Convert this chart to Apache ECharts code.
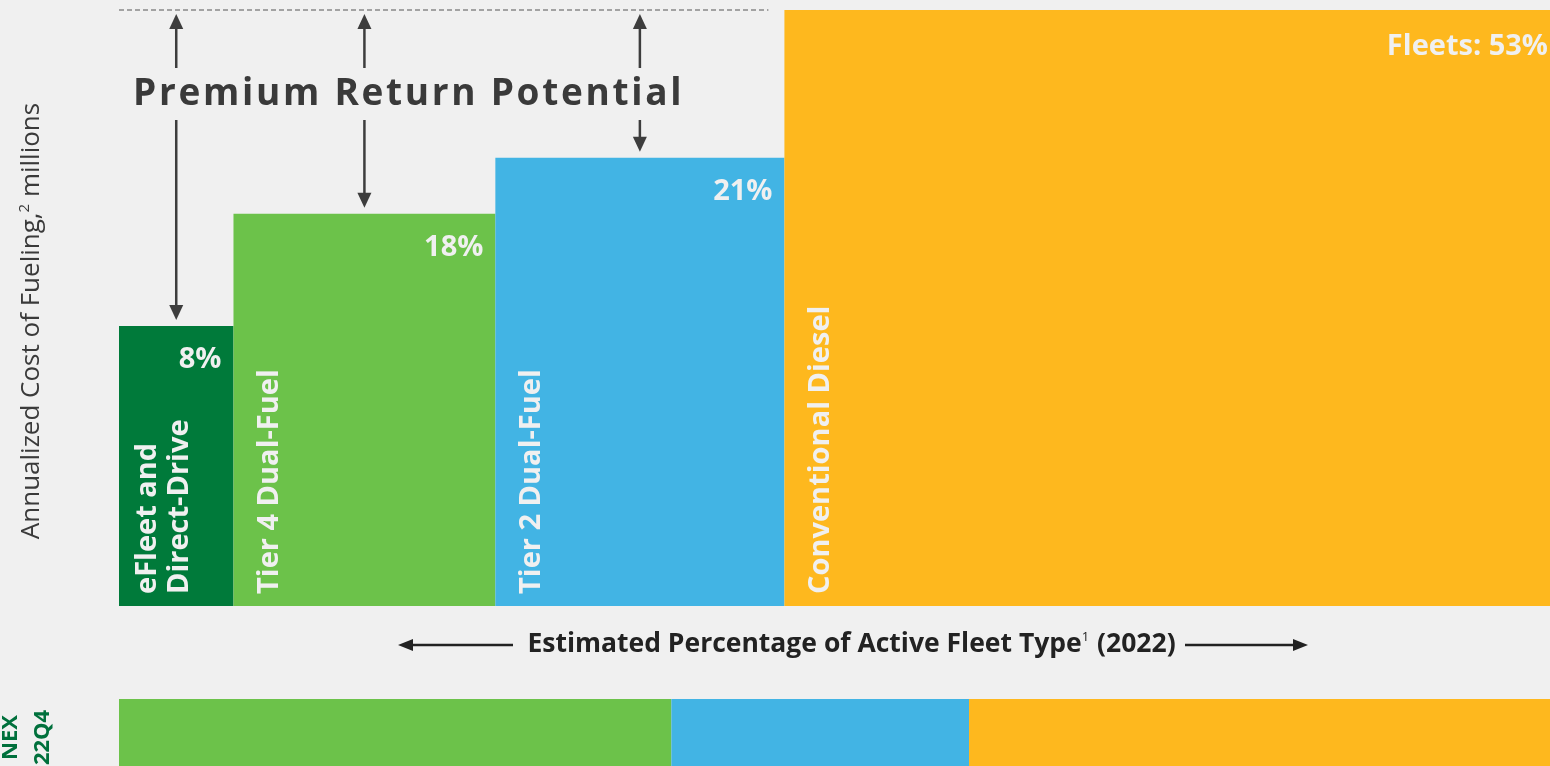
<!DOCTYPE html>
<html>
<head>
<meta charset="utf-8">
<style>
  html, body { margin: 0; padding: 0; background: #f0f0f0; }
  #chart { width: 1550px; height: 766px; }
</style>
<script src="https://cdn.jsdelivr.net/npm/echarts@6/dist/echarts.min.js"></script>
</head>
<body>
<div id="chart"></div>
<script>
// fleet types, share of active fleet (bar width) and relative fueling cost (bar height)
const fleetTypes = ['eFleet and\nDirect-Drive', 'Tier 4 Dual-Fuel', 'Tier 2 Dual-Fuel', 'Conventional Diesel'];
const shareLabels = ['8%', '18%', '21%', 'Fleets: 53%'];
const fleetShare = [8.0, 18.3, 20.2, 53.5];
const fuelCost = [47, 65.8, 75.2, 100];
// NEX 22Q4 mix (Tier 4 / Tier 2 / conventional)
const nexCategory = ['NEX\n22Q4'];
const nexTier4 = [38.6];
const nexTier2 = [20.8];
const nexDiesel = [40.6];

const colors = ['#007a3a', '#6cc24a', '#42b4e4', '#feb81e'];
const yMax = 100;

// spaced-out title, one text per letter (no letterSpacing in zrender)
function spacedTitle(str, font, spacing, x0, yc) {
  const ctx = document.createElement('canvas').getContext('2d');
  ctx.font = font;
  const els = [];
  let x = x0;
  for (const ch of str) {
    els.push({ type: 'text', x: x, y: yc, z: 11,
      style: { text: ch, font: font, fill: '#3a3a3a', verticalAlign: 'middle' } });
    x += ctx.measureText(ch).width + spacing;
  }
  return { width: x - spacing - x0, els: els };
}

function renderChart() {
  const dom = document.getElementById('chart');
  const chart = echarts.init(dom);

  // build [start, end, value] for the variable-width bars
  let acc = 0;
  const barData = fleetShare.map(function (w, i) {
    const item = [acc, acc + w, fuelCost[i]];
    acc += w;
    return item;
  });

  function renderItem(params, api) {
    const i = params.dataIndex;
    const p0 = api.coord([api.value(0), api.value(2)]);
    const p1 = api.coord([api.value(1), 0]);
    const last = i === fleetTypes.length - 1;
    const lines = fleetTypes[i].split('\n').length;
    const children = [
      {
        type: 'rect',
        shape: { x: p0[0], y: p0[1], width: p1[0] - p0[0], height: p1[1] - p0[1] },
        style: { fill: colors[i] }
      },
      {
        type: 'text',
        x: p1[0] - (last ? 2 : 12),
        y: p0[1] + (last ? 37 : 34),
        style: {
          text: shareLabels[i], align: 'right', verticalAlign: 'middle',
          font: 'bold 29px "Open Sans"', fill: '#f0f0f0'
        }
      },
      {
        type: 'text',
        x: p0[0] + 36 + (lines - 1) * 9,
        y: p1[1] - 12,
        rotation: Math.PI / 2,
        style: {
          text: fleetTypes[i], align: 'left', verticalAlign: 'middle',
          font: 'bold 29px "Open Sans"', lineHeight: 32, fill: '#f0f0f0'
        }
      }
    ];
    // arrows from the conventional level down to each cheaper fleet type
    if (!last) {
      const cx = (p0[0] + p1[0]) / 2;
      const top = api.coord([0, yMax])[1] + 4;
      const bot = p0[1] - 6;
      children.push(
        { type: 'line', shape: { x1: cx, y1: top + 12, x2: cx, y2: bot - 12 },
          style: { stroke: '#3d3d3d', lineWidth: 2.5 } },
        { type: 'polygon', shape: { points: [[cx, top], [cx - 7, top + 15], [cx + 7, top + 15]] },
          style: { fill: '#3d3d3d' } },
        { type: 'polygon', shape: { points: [[cx, bot], [cx - 7, bot - 15], [cx + 7, bot - 15]] },
          style: { fill: '#3d3d3d' } }
      );
    }
    if (i === 0) {
      const a = api.coord([0, yMax]);
      const b = api.coord([barData[fleetTypes.length - 1][0], yMax]);
      children.push({
        type: 'line',
        shape: { x1: a[0], y1: a[1], x2: b[0] - 16, y2: a[1] },
        style: { stroke: '#555', lineWidth: 1, lineDash: [5, 3] }
      });
    }
    return { type: 'group', children: children };
  }

  const title = spacedTitle('Premium Return Potential', 'bold 37px "Open Sans"', 2.7, 133, 94);

  const option = {
    backgroundColor: '#f0f0f0',
    animation: false,
    grid: [
      { left: 119, right: 0, top: 10, bottom: 160, outerBoundsMode: 'none' },
      { left: 119, right: 0, top: 699, bottom: -10, outerBoundsMode: 'none' }
    ],
    xAxis: [
      {
        type: 'value', min: 0, max: 100,
        axisLine: { show: false }, axisTick: { show: false },
        axisLabel: { show: false }, splitLine: { show: false },
        name: '{b|Estimated Percentage of Active Fleet Type}{s|1}{b| (2022)}',
        nameLocation: 'middle',
        nameGap: 21,
        nameTextStyle: {
          padding: [0, 0, 0, 34],
          rich: {
            b: { fontFamily: 'Open Sans', fontWeight: 'bold', fontSize: 26.5, color: '#222', lineHeight: 34 },
            s: { fontFamily: 'Open Sans', fontSize: 13, color: '#222', lineHeight: 34, padding: [0, 1, 14, 0] }
          }
        }
      },
      {
        type: 'value', gridIndex: 1, min: 0, max: 100, show: false
      }
    ],
    yAxis: [
      {
        type: 'value', min: 0, max: yMax,
        axisLine: { show: false }, axisTick: { show: false },
        axisLabel: { show: false }, splitLine: { show: false },
        name: '{a|Annualized Cost of Fueling,}{s|2}{a| millions}',
        nameLocation: 'middle',
        nameRotate: 90,
        nameGap: 70,
        nameTextStyle: {
          padding: [0, 26, 0, 0],
          rich: {
            a: { fontFamily: 'Open Sans', fontSize: 26, color: '#3a3a3a', lineHeight: 34 },
            s: { fontFamily: 'Open Sans', fontSize: 15, color: '#3a3a3a', lineHeight: 34, padding: [0, 0, 14, 0] }
          }
        }
      },
      {
        type: 'category', gridIndex: 1, data: nexCategory,
        axisLine: { show: false }, axisTick: { show: false }, axisLabel: { show: false }
      }
    ],
    graphic: [
      { type: 'rect', z: 10, shape: { x: 127, y: 68, width: title.width + 12, height: 52 }, style: { fill: '#f0f0f0' } }
    ].concat(title.els).concat([
      { type: 'line', shape: { x1: 410, y1: 645, x2: 513, y2: 645 }, style: { stroke: '#222', lineWidth: 2.5 } },
      { type: 'polygon', shape: { points: [[398, 645], [413, 639], [413, 651]] }, style: { fill: '#222' } },
      { type: 'line', shape: { x1: 1185, y1: 645, x2: 1296, y2: 645 }, style: { stroke: '#222', lineWidth: 2.5 } },
      { type: 'polygon', shape: { points: [[1308, 645], [1293, 639], [1293, 651]] }, style: { fill: '#222' } }
    ]),
    series: [
      {
        type: 'custom',
        renderItem: renderItem,
        data: barData,
        encode: { x: [0, 1], y: 2 }
      },
      { type: 'bar', xAxisIndex: 1, yAxisIndex: 1, stack: 'nex', barWidth: '100%', data: nexTier4, itemStyle: { color: colors[1] } },
      { type: 'bar', xAxisIndex: 1, yAxisIndex: 1, stack: 'nex', barWidth: '100%', data: nexTier2, itemStyle: { color: colors[2] } },
      { type: 'bar', xAxisIndex: 1, yAxisIndex: 1, stack: 'nex', barWidth: '100%', data: nexDiesel, itemStyle: { color: colors[3] } }
    ]
  };
  chart.setOption(option, true);

  // NEX 22Q4 row label, centred on its category band
  const yc = chart.convertToPixel({ yAxisIndex: 1 }, nexCategory[0]);
  chart.setOption({
    graphic: option.graphic.concat([{
      type: 'text', x: 27, y: yc, rotation: Math.PI / 2,
      style: {
        text: nexCategory[0], align: 'center', verticalAlign: 'middle',
        font: 'bold 22px "Open Sans"', lineHeight: 32, fill: '#00703c'
      }
    }])
  });
}
renderChart();
</script>
</body>
</html>
